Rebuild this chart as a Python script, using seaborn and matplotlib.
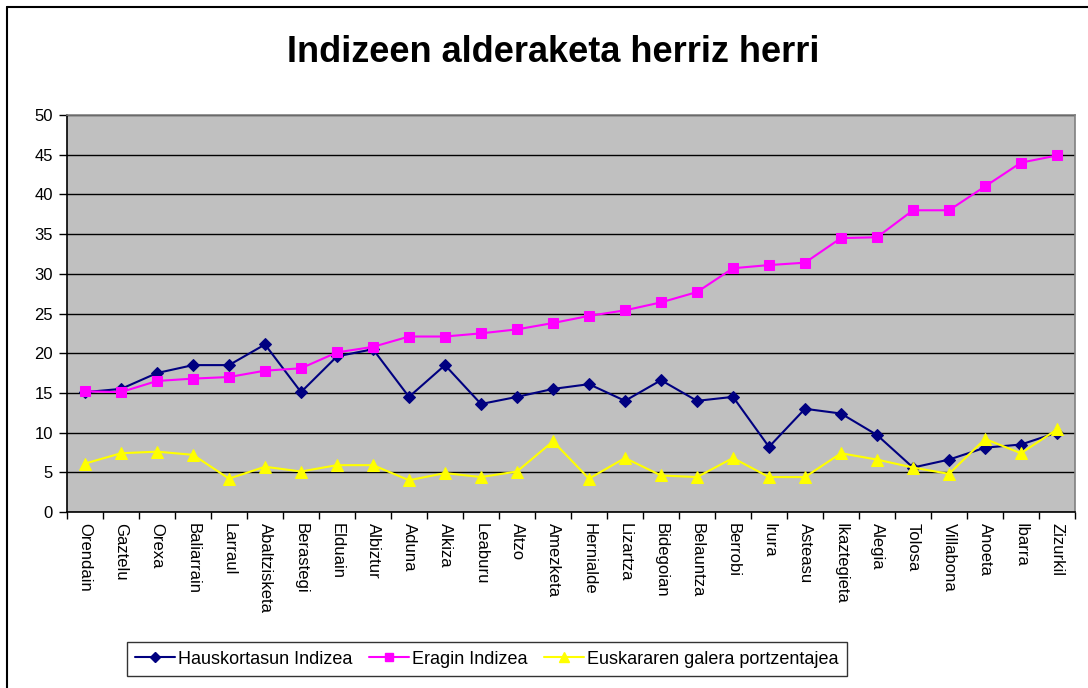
import matplotlib
matplotlib.use("Agg")
import matplotlib.pyplot as plt
import seaborn as sns
from matplotlib.lines import Line2D
from matplotlib.ticker import FixedLocator, NullFormatter

# ── Datuak ────────────────────────────────────────────────────────────────────
HERRIAK = ["Orendain", "Gaztelu", "Orexa", "Baliarrain", "Larraul", "Abaltzisketa",
           "Berastegi", "Elduain", "Albiztur", "Aduna", "Alkiza", "Leaburu", "Altzo",
           "Amezketa", "Hernialde", "Lizartza", "Bidegoian", "Belauntza", "Berrobi",
           "Irura", "Asteasu", "Ikaztegieta", "Alegia", "Tolosa", "Villabona",
           "Anoeta", "Ibarra", "Zizurkil"]

HAUSKORTASUN = [15.1, 15.5, 17.5, 18.5, 18.5, 21.1, 15.1, 19.6, 20.5, 14.5,
                18.5, 13.6, 14.5, 15.5, 16.1, 14.0, 16.6, 14.0, 14.5, 8.2,
                13.0, 12.4, 9.7, 5.6, 6.6, 8.1, 8.5, 10.0]
ERAGIN = [15.2, 15.1, 16.5, 16.8, 17.0, 17.8, 18.1, 20.1, 20.8, 22.1,
          22.1, 22.5, 23.0, 23.8, 24.7, 25.4, 26.4, 27.7, 30.7, 31.1,
          31.4, 34.5, 34.6, 38.0, 38.0, 41.0, 44.0, 44.9]
GALERA = [6.1, 7.4, 7.6, 7.2, 4.2, 5.7, 5.1, 5.9, 5.9, 4.0,
          4.9, 4.4, 5.1, 8.9, 4.2, 6.8, 4.6, 4.4, 6.8, 4.4,
          4.4, 7.4, 6.6, 5.6, 4.8, 9.2, 7.4, 10.4]

SERIEAK = ["Hauskortasun Indizea", "Eragin Indizea", "Euskararen galera portzentajea"]
KOLOREAK = ["#000080", "#FF00FF", "#FFFF00"]
MARKERRAK = ["D", "s", "^"]
TAMAINAK = [6.5, 7, 8]

sns.set_theme(style="white")
plt.rcParams["font.family"] = ["Liberation Sans", "DejaVu Sans"]
plt.rcParams["text.color"] = "black"
plt.rcParams["xtick.color"] = "black"
plt.rcParams["ytick.color"] = "black"

fig = plt.figure(figsize=(10.88, 6.88), dpi=100)
ax = fig.add_axes([67 / 1088, 1 - 512 / 688, 1008 / 1088, 397 / 688])
ax.set_facecolor("#C0C0C0")

x = list(range(len(HERRIAK)))
for izena, balioak, kolorea, markerra, tam in zip(SERIEAK, [HAUSKORTASUN, ERAGIN, GALERA],
                                                   KOLOREAK, MARKERRAK, TAMAINAK):
    sns.lineplot(x=x, y=balioak, ax=ax, color=kolorea, marker=markerra,
                 markersize=tam, markeredgecolor=kolorea, linewidth=1.5,
                 label=izena, legend=False, zorder=3)

ax.set_xlim(-0.5, len(HERRIAK) - 0.5)
ax.set_ylim(0, 50)
ax.set_yticks(range(0, 51, 5))
ax.yaxis.grid(True, color="black", linewidth=1)
ax.xaxis.grid(False)

ax.set_xticks(x)
ax.set_xticklabels(HERRIAK, rotation=270, fontsize=12, va="top", ha="center")
ax.xaxis.set_minor_locator(FixedLocator([i - 0.5 for i in range(len(HERRIAK) + 1)]))
ax.xaxis.set_minor_formatter(NullFormatter())
ax.tick_params(axis="x", which="major", length=0, pad=8)
ax.tick_params(axis="x", which="minor", length=5, width=1, color="black", bottom=True)
ax.tick_params(axis="y", length=6, width=1, color="black", left=True, labelsize=12, pad=4)

for s in ax.spines.values():
    s.set_color("#808080")
    s.set_linewidth(1.2)
ax.spines["left"].set_color("black")
ax.spines["bottom"].set_color("black")

fig.text(553 / 1088, 1 - 52 / 688, "Indizeen alderaketa herriz herri",
         fontsize=26, fontweight="bold", ha="center", va="center", color="black")

# legenda
eskuak = [Line2D([], [], color=k, marker=m, markersize=t * 0.85, markeredgecolor=k, linewidth=1.5)
          for k, m, t in zip(KOLOREAK, MARKERRAK, TAMAINAK)]
leg = fig.legend(eskuak, SERIEAK, loc="center", ncol=3,
                 bbox_to_anchor=(487 / 1088, 1 - 659 / 688), fontsize=13,
                 frameon=True, fancybox=False, handlelength=2.2, handletextpad=0.2,
                 columnspacing=0.9, borderpad=0.45)
leg.get_frame().set_edgecolor("black")
leg.get_frame().set_linewidth(1)

# kanpoko ertza (ezkerra eta goia)
fig.add_artist(Line2D([7 / 1088, 7 / 1088], [0, 1 - 7 / 688], color="black", linewidth=1.5,
                      transform=fig.transFigure))
fig.add_artist(Line2D([7 / 1088, 1], [1 - 7 / 688, 1 - 7 / 688], color="black", linewidth=1.5,
                      transform=fig.transFigure))

fig.savefig("out.png", dpi=100, facecolor="white")
